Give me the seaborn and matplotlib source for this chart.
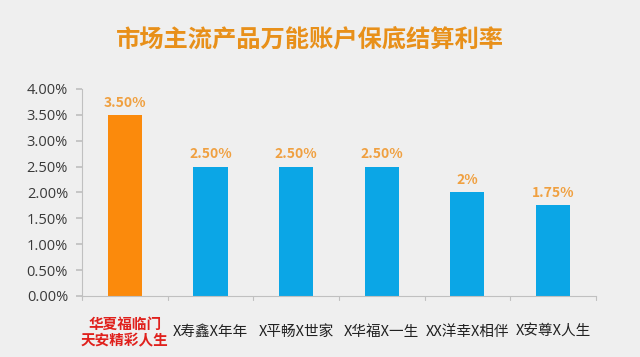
import matplotlib
matplotlib.use("Agg")
import matplotlib.pyplot as plt
import seaborn as sns
import pandas as pd

categories = ["华夏福临门\n天安精彩人生", "X寿鑫X年年", "X平畅X世家", "X华福X一生", "XX洋幸X相伴", "X安尊X人生"]
values = [3.50, 2.50, 2.50, 2.50, 2.00, 1.75]
value_labels = ["3.50%", "2.50%", "2.50%", "2.50%", "2%", "1.75%"]
y_ticks = [0.0, 0.5, 1.0, 1.5, 2.0, 2.5, 3.0, 3.5, 4.0]
title = "市场主流产品万能账户保底结算利率"

sns.set_theme(style="white")
plt.rcParams['font.family'] = ['Noto Sans CJK SC', 'DejaVu Sans']

bg = "#efefef"
fig = plt.figure(figsize=(6.4, 3.57), dpi=100, facecolor=bg)
ax = fig.add_axes([0.128, 0.171, 0.803, 0.58])
ax.set_facecolor(bg)

df = pd.DataFrame({"cat": categories, "val": values})
palette = ["#fb8a0c"] + ["#0ba6e6"] * 5
sns.barplot(data=df, x="cat", y="val", hue="cat", palette=palette, width=0.4,
            legend=False, ax=ax, saturation=1, linewidth=0, edgecolor="none")

for i, (v, lab) in enumerate(zip(values, value_labels)):
    ax.text(i, v + 0.1, lab, ha="center", va="bottom", fontsize=10,
            fontweight="bold", color="#f0a040")

ax.set_ylim(0, 4.0)
ax.set_xlim(-0.5, len(categories) - 0.5)
ax.set_yticks(y_ticks)
ax.set_yticklabels([f"{t:.2f}%" for t in y_ticks], fontsize=10.5, color="#3a3a3a",
                   family="Open Sans")
ax.set_xticks(range(len(categories)))
ax.set_xticklabels(categories, fontsize=10.5, color="#222222", va="center")
lbl0 = ax.get_xticklabels()[0]
lbl0.set_color("#e0201c")
lbl0.set_fontweight("bold")
lbl0.set_linespacing(1.0)
ax.tick_params(axis="x", length=0, pad=26)
ax.tick_params(axis="y", length=4, color="#c0c0c0", left=True, pad=6)

# category separator ticks
for b in range(len(categories) + 1):
    ax.plot([b - 0.5, b - 0.5], [0, -0.08], color="#c0c0c0", lw=0.8, clip_on=False)

ax.set_xlabel("")
ax.set_ylabel("")
for s in ["top", "right"]:
    ax.spines[s].set_visible(False)
for s in ["left", "bottom"]:
    ax.spines[s].set_color("#c0c0c0")
    ax.spines[s].set_linewidth(0.8)

fig.text(0.485, 0.89, title, ha="center", va="center", fontsize=17.5,
         fontweight="bold", color="#e8901a")

fig.savefig("out.png", dpi=100, facecolor=bg)
